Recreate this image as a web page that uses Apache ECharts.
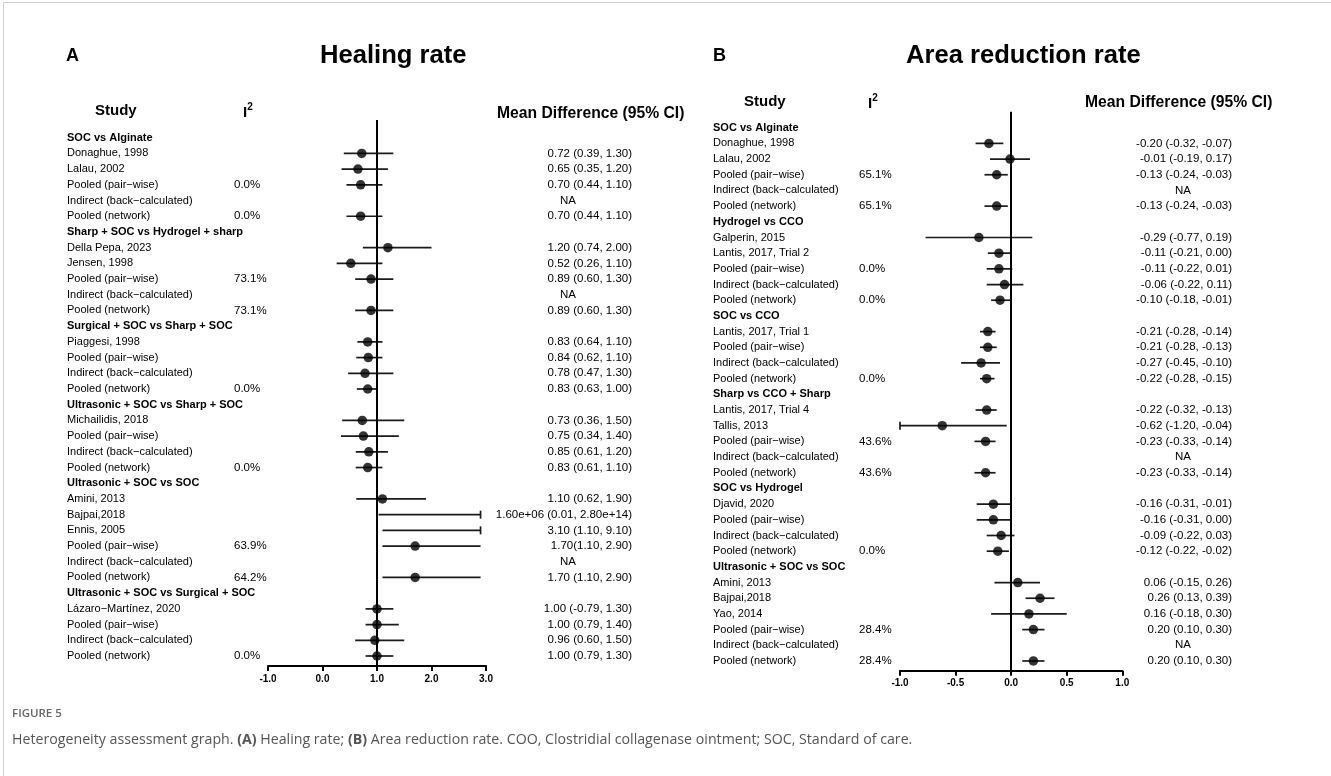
<!DOCTYPE html>
<html><head><meta charset="utf-8">
<script src="https://cdn.jsdelivr.net/npm/echarts/dist/echarts.min.js"></script>
<style>html,body{margin:0;padding:0;background:#fff}#c{width:1331px;height:776px}</style>
</head><body><div id="c"></div><script>
// ---------------- Panel A : Healing rate ----------------
const studyA = ['SOC vs Alginate','Donaghue, 1998','Lalau, 2002','Pooled (pair\u2212wise)','Indirect (back\u2212calculated)','Pooled (network)',
 'Sharp + SOC vs Hydrogel + sharp','Della Pepa, 2023','Jensen, 1998','Pooled (pair\u2212wise)','Indirect (back\u2212calculated)','Pooled (network)',
 'Surgical + SOC vs Sharp + SOC','Piaggesi, 1998','Pooled (pair\u2212wise)','Indirect (back\u2212calculated)','Pooled (network)',
 'Ultrasonic + SOC vs Sharp + SOC','Michailidis, 2018','Pooled (pair\u2212wise)','Indirect (back\u2212calculated)','Pooled (network)',
 'Ultrasonic + SOC vs SOC','Amini, 2013','Bajpai,2018','Ennis, 2005','Pooled (pair\u2212wise)','Indirect (back\u2212calculated)','Pooled (network)',
 'Ultrasonic + SOC vs Surgical + SOC','L\u00e1zaro\u2212Mart\u00ednez, 2020','Pooled (pair\u2212wise)','Indirect (back\u2212calculated)','Pooled (network)'];
const headerRowsA = [0,6,12,17,22,29];
const i2A = ['','','','0.0%','','0.0%','','','','73.1%','','73.1%','','','','','0.0%','','','','','0.0%','','','','','63.9%','','64.2%','','','','','0.0%'];
const mdA = ['','0.72 (0.39, 1.30)','0.65 (0.35, 1.20)','0.70 (0.44, 1.10)','NA','0.70 (0.44, 1.10)',
 '','1.20 (0.74, 2.00)','0.52 (0.26, 1.10)','0.89 (0.60, 1.30)','NA','0.89 (0.60, 1.30)',
 '','0.83 (0.64, 1.10)','0.84 (0.62, 1.10)','0.78 (0.47, 1.30)','0.83 (0.63, 1.00)',
 '','0.73 (0.36, 1.50)','0.75 (0.34, 1.40)','0.85 (0.61, 1.20)','0.83 (0.61, 1.10)',
 '','1.10 (0.62, 1.90)','1.60e+06 (0.01, 2.80e+14)','3.10 (1.10, 9.10)','1.70(1.10, 2.90)','NA','1.70 (1.10, 2.90)',
 '','1.00 (-0.79, 1.30)','1.00 (0.79, 1.40)','0.96 (0.60, 1.50)','1.00 (0.79, 1.30)'];
// values as drawn in the plot (off-scale points omitted, bars truncated at the plot edge)
const meanA = [null,0.72,0.65,0.70,null,0.70,null,1.20,0.52,0.89,null,0.89,null,0.83,0.84,0.78,0.83,null,0.73,0.75,0.85,0.83,null,1.10,null,null,1.70,null,1.70,null,1.00,1.00,0.96,1.00];
const loA = [null,0.39,0.35,0.44,null,0.44,null,0.74,0.26,0.60,null,0.60,null,0.64,0.62,0.47,0.63,null,0.36,0.34,0.61,0.61,null,0.62,1.03,1.10,1.10,null,1.10,null,0.79,0.79,0.60,0.79];
const hiA = [null,1.30,1.20,1.10,null,1.10,null,2.00,1.10,1.30,null,1.30,null,1.10,1.10,1.30,1.00,null,1.50,1.40,1.20,1.10,null,1.90,2.90,2.90,2.90,null,2.90,null,1.30,1.40,1.50,1.30];
const truncHiA = [24,25];
const truncLoA = [];
const ticksA = [-1,0,1,2,3];

// ---------------- Panel B : Area reduction rate ----------------
const studyB = ['SOC vs Alginate','Donaghue, 1998','Lalau, 2002','Pooled (pair\u2212wise)','Indirect (back\u2212calculated)','Pooled (network)',
 'Hydrogel vs CCO','Galperin, 2015','Lantis, 2017, Trial 2','Pooled (pair\u2212wise)','Indirect (back\u2212calculated)','Pooled (network)',
 'SOC vs CCO','Lantis, 2017, Trial 1','Pooled (pair\u2212wise)','Indirect (back\u2212calculated)','Pooled (network)',
 'Sharp vs CCO + Sharp','Lantis, 2017, Trial 4','Tallis, 2013','Pooled (pair\u2212wise)','Indirect (back\u2212calculated)','Pooled (network)',
 'SOC vs Hydrogel','Djavid, 2020','Pooled (pair\u2212wise)','Indirect (back\u2212calculated)','Pooled (network)',
 'Ultrasonic + SOC vs SOC','Amini, 2013','Bajpai,2018','Yao, 2014','Pooled (pair\u2212wise)','Indirect (back\u2212calculated)','Pooled (network)'];
const headerRowsB = [0,6,12,17,23,28];
const i2B = ['','','','65.1%','','65.1%','','','','0.0%','','0.0%','','','','','0.0%','','','','43.6%','','43.6%','','','','','0.0%','','','','','28.4%','','28.4%'];
const mdB = ['','-0.20 (-0.32, -0.07)','-0.01 (-0.19, 0.17)','-0.13 (-0.24, -0.03)','NA','-0.13 (-0.24, -0.03)',
 '','-0.29 (-0.77, 0.19)','-0.11 (-0.21, 0.00)','-0.11 (-0.22, 0.01)','-0.06 (-0.22, 0.11)','-0.10 (-0.18, -0.01)',
 '','-0.21 (-0.28, -0.14)','-0.21 (-0.28, -0.13)','-0.27 (-0.45, -0.10)','-0.22 (-0.28, -0.15)',
 '','-0.22 (-0.32, -0.13)','-0.62 (-1.20, -0.04)','-0.23 (-0.33, -0.14)','NA','-0.23 (-0.33, -0.14)',
 '','-0.16 (-0.31, -0.01)','-0.16 (-0.31, 0.00)','-0.09 (-0.22, 0.03)','-0.12 (-0.22, -0.02)',
 '','0.06 (-0.15, 0.26)','0.26 (0.13, 0.39)','0.16 (-0.18, 0.30)','0.20 (0.10, 0.30)','NA','0.20 (0.10, 0.30)'];
const meanB = [null,-0.20,-0.01,-0.13,null,-0.13,null,-0.29,-0.11,-0.11,-0.06,-0.10,null,-0.21,-0.21,-0.27,-0.22,null,-0.22,-0.62,-0.23,null,-0.23,null,-0.16,-0.16,-0.09,-0.12,null,0.06,0.26,0.16,0.20,null,0.20];
const loB = [null,-0.32,-0.19,-0.24,null,-0.24,null,-0.77,-0.21,-0.22,-0.22,-0.18,null,-0.28,-0.28,-0.45,-0.28,null,-0.32,-1.00,-0.33,null,-0.33,null,-0.31,-0.31,-0.22,-0.22,null,-0.15,0.13,-0.18,0.10,null,0.10];
const hiB = [null,-0.07,0.17,-0.03,null,-0.03,null,0.19,0.00,0.01,0.11,-0.01,null,-0.14,-0.13,-0.10,-0.15,null,-0.13,-0.04,-0.14,null,-0.14,null,-0.01,0.00,0.03,-0.02,null,0.26,0.39,0.50,0.30,null,0.30];
const truncHiB = [];
const truncLoB = [19];
const ticksB = [-1,-0.5,0,0.5,1];

// ---------------- build ----------------
const FONT = '"Liberation Sans", Arial, sans-serif';
const CAPFONT = '"Open Sans", "Noto Sans", sans-serif';
const chart = echarts.init(document.getElementById('c'), null, {renderer:'canvas'});

function xAxisCfg(gi, ticks){
  return {gridIndex:gi, type:'value', min:ticks[0], max:ticks[ticks.length-1], interval:ticks[1]-ticks[0],
    splitLine:{show:false},
    axisLine:{show:true, onZero:false, lineStyle:{color:'#000', width:2}},
    axisTick:{show:true, inside:false, length:5, lineStyle:{color:'#000', width:2}},
    axisLabel:{color:'#000', fontFamily:FONT, fontWeight:'bold', fontSize:10, margin:8,
      formatter:v=>v.toFixed(1)}};
}
function yAxisCfg(gi, min, max){
  return {gridIndex:gi, type:'value', inverse:true, min:min, max:max, show:false};
}
function barSeries(gi, lo, hi, tLo, tHi){
  const data=[];
  lo.forEach((l,i)=>{ if(l!==null) data.push([l, hi[i], i, tLo.includes(i)?1:0, tHi.includes(i)?1:0]); });
  return {type:'custom', xAxisIndex:gi, yAxisIndex:gi, silent:true, clip:false, data:data,
    encode:{x:[0,1], y:2},
    renderItem(params, api){
      const r = api.value(2);
      const p1 = api.coord([api.value(0), r]);
      const p2 = api.coord([api.value(1), r]);
      const st = {stroke:'#1a1a1a', lineWidth:1.7};
      const ch = [{type:'line', shape:{x1:p1[0],y1:p1[1],x2:p2[0],y2:p2[1]}, style:st}];
      if(api.value(3)) ch.push({type:'line', shape:{x1:p1[0],y1:p1[1]-4,x2:p1[0],y2:p1[1]+4}, style:st});
      if(api.value(4)) ch.push({type:'line', shape:{x1:p2[0],y1:p2[1]-4,x2:p2[0],y2:p2[1]+4}, style:st});
      return {type:'group', children:ch};
    }};
}
function dotSeries(gi, mean, refX){
  const data=[];
  mean.forEach((m,i)=>{ if(m!==null) data.push([m,i]); });
  return {type:'scatter', xAxisIndex:gi, yAxisIndex:gi, silent:true, data:data, symbol:'circle', symbolSize:9.5,
    itemStyle:{color:'#000'}, z:5,
    markLine:{silent:true, symbol:['none','none'], label:{show:false},
      lineStyle:{color:'#000', width:2, type:'solid'}, data:[{xAxis:refX}]}};
}
function textSeries(gi, study, headers, i2, md, col){
  return {type:'custom', xAxisIndex:gi, yAxisIndex:gi, silent:true, clip:false,
    data: study.map((s,i)=>[0,i]),
    renderItem(params, api){
      const i = api.value(1);
      const y = api.coord([0,i])[1];
      const isH = headers.includes(i);
      const ch = [{type:'text', style:{text:study[i], x:col.label, y:y, align:'left', verticalAlign:'middle',
        fontFamily:FONT, fontSize:11, fontWeight:isH?'bold':'normal', fill:'#000'}}];
      if(i2[i]) ch.push({type:'text', style:{text:i2[i], x:col.i2, y:y, align:'left', verticalAlign:'middle',
        fontFamily:FONT, fontSize:11.5, fill:'#000'}});
      if(md[i]){
        const na = md[i]==='NA';
        ch.push({type:'text', style:{text:md[i], x:na?col.na:col.md, y:y, align:na?'center':'right', verticalAlign:'middle',
          fontFamily:FONT, fontSize:11.5, fill:'#000'}});
      }
      return {type:'group', children:ch};
    }};
}
function headerTexts(col, yH, title, letter){
  return [
    {type:'text', left:col.letter, top:yH.title-11, style:{text:letter, fontFamily:FONT, fontWeight:'bold', fontSize:18, fill:'#000'}},
    {type:'text', left:col.title, top:yH.title-15, style:{text:title, fontFamily:FONT, fontWeight:'bold', fontSize:25.6, fill:'#000'}},
    {type:'text', left:col.study, top:yH.study-9, style:{text:'Study', fontFamily:FONT, fontWeight:'bold', fontSize:15, fill:'#000'}},
    {type:'text', left:col.i2h, top:yH.study-10, style:{rich:{a:{fontFamily:FONT, fontWeight:'bold', fontSize:15, fill:'#000', verticalAlign:'bottom'}, s:{fontFamily:FONT, fontWeight:'bold', fontSize:10, fill:'#000', verticalAlign:'top', padding:[0,0,8,0]}}, text:'{a|I}{s|2}'}},
    {type:'text', left:col.mdh, top:yH.md-10, style:{text:'Mean Difference (95% CI)', fontFamily:FONT, fontWeight:'bold', fontSize:15.7, fill:'#000'}}
  ];
}
const colA = {label:67, i2:234, md:632, na:568, letter:66, title:320, study:95, i2h:243, mdh:497};
const colB = {label:713, i2:859, md:1232, na:1183, letter:713, title:906, study:744, i2h:868, mdh:1085};

const option = {
  animation:false,
  backgroundColor:'#fff',
  grid:[
    {left:268, width:218, top:120, height:546, containLabel:false},
    {left:900, width:222.3, top:111.7, height:559, containLabel:false}
  ],
  xAxis:[xAxisCfg(0, ticksA), xAxisCfg(1, ticksB)],
  yAxis:[yAxisCfg(0, -1.127, 33.637), yAxisCfg(1, -1.02, 34.62)],
  series:[
    barSeries(0, loA, hiA, truncLoA, truncHiA),
    dotSeries(0, meanA, 1),
    textSeries(0, studyA, headerRowsA, i2A, mdA, colA),
    barSeries(1, loB, hiB, truncLoB, truncHiB),
    dotSeries(1, meanB, 0),
    textSeries(1, studyB, headerRowsB, i2B, mdB, colB)
  ],
  graphic:[
    {type:'line', shape:{x1:3.5,y1:2.5,x2:1331,y2:2.5}, style:{stroke:'#cfcfcf', lineWidth:1}},
    {type:'line', shape:{x1:3.5,y1:2.5,x2:3.5,y2:776}, style:{stroke:'#cfcfcf', lineWidth:1}},
    ...headerTexts(colA, {title:58, study:112, md:116}, 'Healing rate', 'A'),
    ...headerTexts(colB, {title:58, study:103, md:105}, 'Area reduction rate', 'B'),
    {type:'text', left:12, top:708, style:{text:'FIGURE 5', fontFamily:CAPFONT, fontWeight:600, fontSize:11.5, fill:'#666'}},
    {type:'text', left:12, top:733, style:{
      rich:{n:{fontFamily:CAPFONT, fontSize:14.2, fill:'#555'},
            b:{fontFamily:CAPFONT, fontSize:14.2, fontWeight:'bold', fill:'#555'}},
      text:'{n|Heterogeneity assessment graph. }{b|(A)}{n| Healing rate; }{b|(B)}{n| Area reduction rate. COO, Clostridial collagenase ointment; SOC, Standard of care.}'}}
  ]
};
chart.setOption(option);
</script></body></html>
